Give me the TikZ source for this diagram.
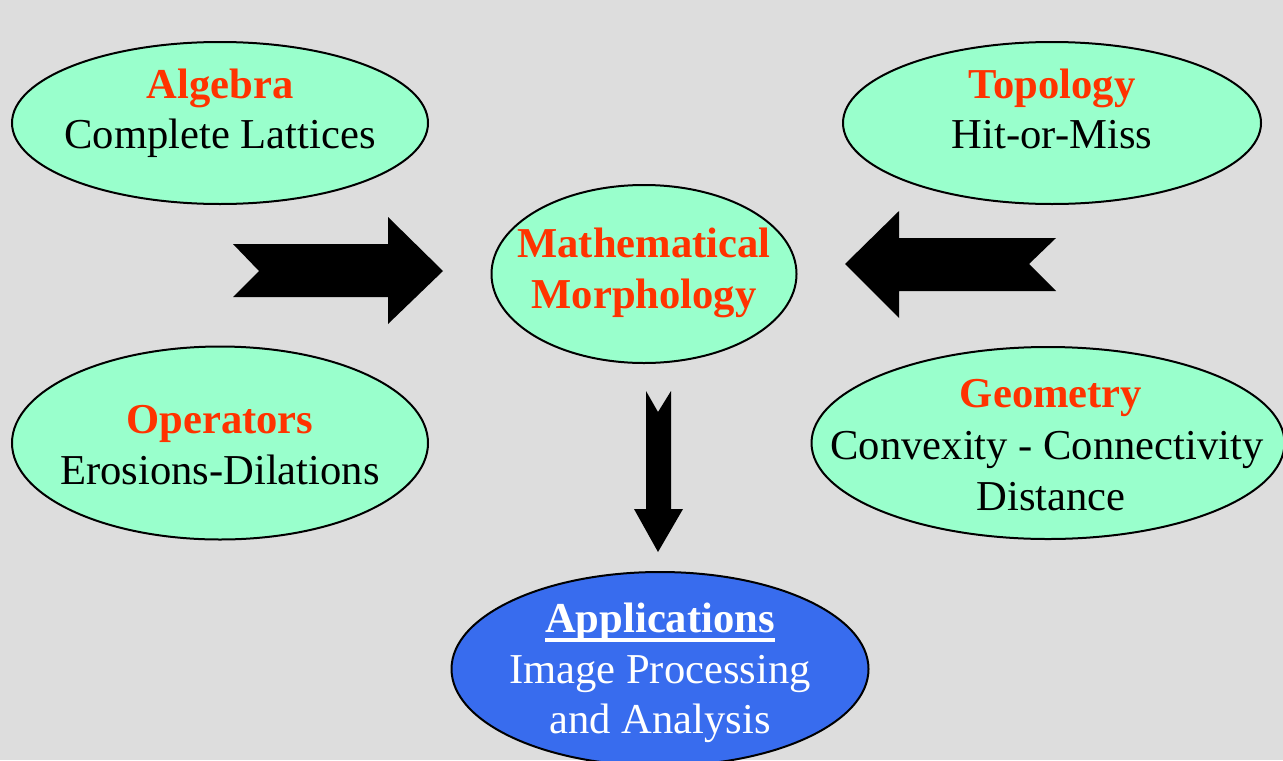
\documentclass[tikz,border=0pt]{standalone}
\usepackage{fontspec}
\setmainfont{Liberation Serif}
\usetikzlibrary{shapes.geometric,calc}
\definecolor{bg}{RGB}{221,221,221}
\definecolor{mint}{RGB}{153,255,204}
\definecolor{hot}{RGB}{255,51,0}
\definecolor{royal}{RGB}{56,108,238}
\begin{document}
\begin{tikzpicture}[x=0.5pt,y=-0.5pt,
  blob/.style={ellipse, draw=black, line width=1pt, fill=mint, inner sep=0pt},
  ttl/.style={anchor=base, inner sep=0pt, text=hot, font=\fontsize{21.3}{25}\selectfont\bfseries},
  txt/.style={anchor=base, inner sep=0pt, text=black, font=\fontsize{21.3}{25}\selectfont},
  blockarrow/.style={fill=black}]
% canvas
\fill[bg] (0,0) rectangle (1283,760);
\useasboundingbox (0,0) rectangle (1283,760);

% block arrows
\fill[blockarrow] (233,244) -- (388,244) -- (388,217) -- (443,271) -- (388,324)
  -- (388,297) -- (233,297) -- (259,271) -- cycle;
\fill[blockarrow] (1056,238) -- (899,238) -- (899,211) -- (845,264) -- (899,318)
  -- (899,291) -- (1056,291) -- (1029,264) -- cycle;
\fill[blockarrow] (646,391) -- (658,412) -- (671,391) -- (671,509) -- (683,509)
  -- (658,552) -- (634,509) -- (646,509) -- cycle;

% ellipses
\node[blob, minimum width=208pt, minimum height=81pt] (alg) at (220,123) {};
\node[blob, minimum width=209pt, minimum height=81pt] (topo) at (1052,123) {};
\node[blob, minimum width=152.5pt, minimum height=89pt] (mm) at (644,274) {};
\node[blob, minimum width=208pt, minimum height=96.5pt] (ops) at (220,443) {};
\node[blob, minimum width=236.5pt, minimum height=96pt] (geo) at (1048,443) {};
\node[blob, fill=royal, minimum width=208.5pt, minimum height=97pt] (app) at (660,669) {};

% labels
\node[ttl] (algT) at (220,98) {Algebra};
\node[txt] (algS) at (220,148) {Complete Lattices};
\node[ttl] (topoT) at (1052,98) {Topology};
\node[txt] (topoS) at (1052,148) {Hit-or-Miss};
\node[ttl] (mmA) at (644,257) {Mathematical};
\node[ttl] (mmB) at (644,308) {Morphology};
\node[ttl] (opsT) at (220,433) {Operators};
\node[txt] (opsS) at (220,484) {Erosions-Dilations};
\node[ttl] (geoT) at (1051,407) {Geometry};
\node[txt] (geoS) at (1047,459) {Convexity - Connectivity};
\node[txt] (geoU) at (1051,510) {Distance};
\node[ttl, text=white] (appT) at (660,632) {Applications};
\fill[white] ($(appT.base west)+(0,6)$) rectangle ($(appT.base east)+(0,10)$);
\node[txt, text=white] (appS) at (660,683) {Image Processing};
\node[txt, text=white] (appU) at (660,733) {and Analysis};
\end{tikzpicture}
\end{document}
